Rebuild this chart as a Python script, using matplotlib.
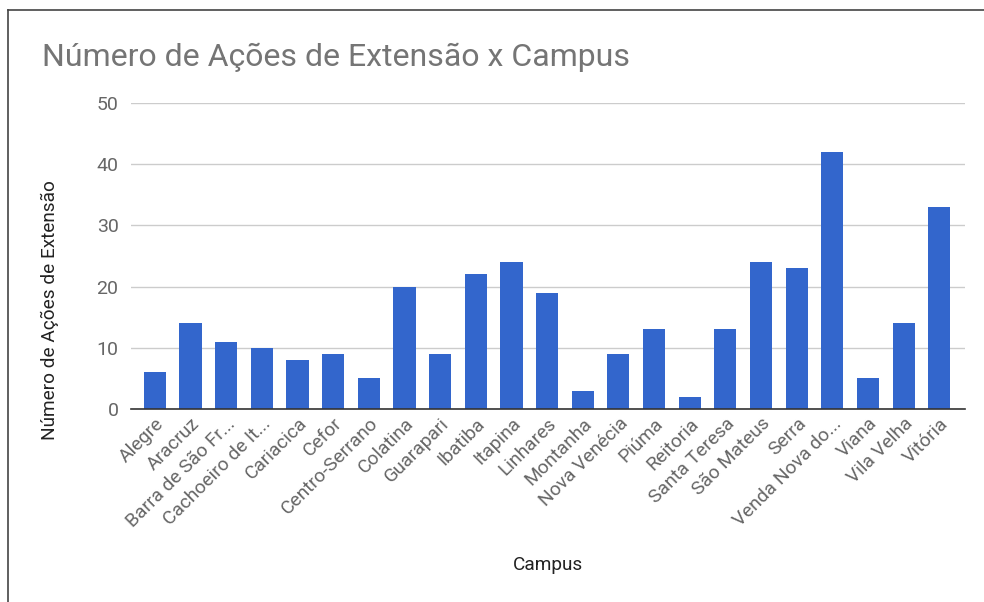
import matplotlib.pyplot as plt
from matplotlib.lines import Line2D

plt.rcParams['font.family'] = ['Roboto', 'DejaVu Sans']

campus = ['Alegre', 'Aracruz', 'Barra de São Fr...', 'Cachoeiro de It...', 'Cariacica',
          'Cefor', 'Centro-Serrano', 'Colatina', 'Guarapari', 'Ibatiba', 'Itapina',
          'Linhares', 'Montanha', 'Nova Venécia', 'Piúma', 'Reitoria', 'Santa Teresa',
          'São Mateus', 'Serra', 'Venda Nova do...', 'Viana', 'Vila Velha', 'Vitória']
acoes = [6, 14, 11, 10, 8, 9, 5, 20, 9, 22, 24, 19, 3, 9, 13, 2, 13, 24, 23, 42, 5, 14, 33]
yticks = [0, 10, 20, 30, 40, 50]

fig = plt.figure(figsize=(9.84, 6.02), dpi=100)
W, H = 984, 602
ax = fig.add_axes([131 / W, 1 - 409 / H, (965 - 131) / W, (409 - 103) / H])

x = list(range(len(campus)))
ax.bar(x, acoes, width=0.62, color='#3366cc', zorder=3)
ax.set_xlim(-0.67, len(campus) - 0.28)
ax.set_ylim(0, 50)

ax.set_yticks(yticks)
ax.set_yticklabels([str(v) for v in yticks], color='#666666', fontsize=14)
ax.grid(axis='y', color='#cccccc', linewidth=1, zorder=0)
ax.tick_params(axis='y', length=0, pad=9)
ax.tick_params(axis='x', length=0, pad=4)
ax.set_xticks(x)
ax.set_xticklabels(campus, rotation=45, ha='right', rotation_mode='anchor',
                   color='#666666', fontsize=13.8)

for s in ['top', 'right', 'left']:
    ax.spines[s].set_visible(False)
ax.spines['bottom'].set_color('#333333')
ax.spines['bottom'].set_linewidth(1.2)
ax.spines['bottom'].set_zorder(4)

fig.text(42 / W, 1 - 57 / H, 'Número de Ações de Extensão x Campus', fontsize=23,
         color='#757575', va='center', ha='left')
fig.text(50 / W, 1 - 310 / H, 'Número de Ações de Extensão', rotation=90,
         fontsize=13.7, color='#222222', va='center', ha='center')
fig.text(548 / W, 1 - 565 / H, 'Campus', fontsize=13.7, color='#222222',
         va='center', ha='center')

# screenshot border (top and left)
fig.add_artist(Line2D([8 / W, 1], [1 - 10 / H, 1 - 10 / H], color='#444444', linewidth=1.2))
fig.add_artist(Line2D([8 / W, 8 / W], [0, 1 - 10 / H], color='#444444', linewidth=1.2))

fig.savefig('out.png', dpi=100)
